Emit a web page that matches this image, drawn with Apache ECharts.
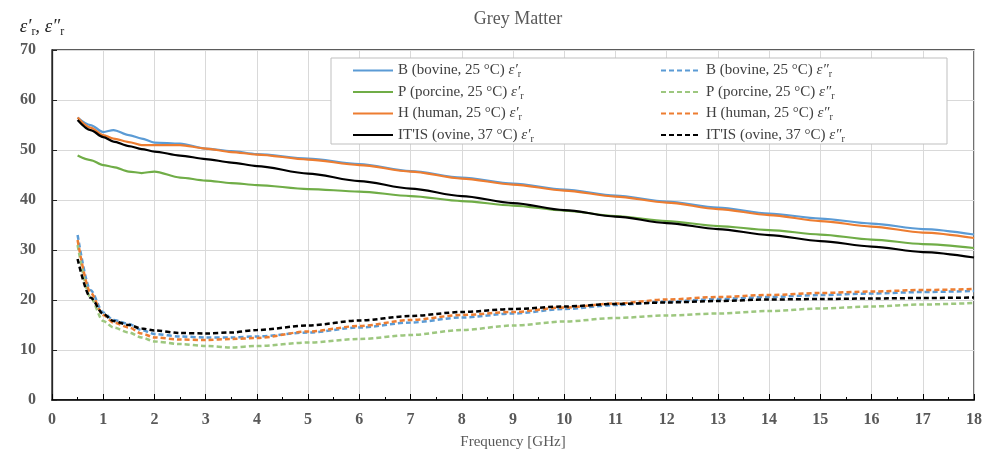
<!DOCTYPE html>
<html>
<head>
<meta charset="utf-8">
<script src="https://cdn.jsdelivr.net/npm/echarts@6/dist/echarts.min.js"></script>
<style>
  html, body { margin: 0; padding: 0; background: #fff; }
  #chart { width: 990px; height: 455px; }
</style>
</head>
<body>
<div id="chart"></div>
<script>
// frequency points (GHz)
var freq = [0.5, 0.75, 1, 1.2, 1.5, 1.75, 2, 2.5, 3, 3.5, 4, 5, 6, 7, 8, 9, 10, 11, 12, 13, 14, 15, 16, 17, 18];

// real part ε'r
var bovineReal  = [56.5, 55, 53.6, 54, 53, 52.3, 51.5, 51.3, 50.3, 49.8, 49.2, 48.3, 47.2, 45.8, 44.5, 43.3, 42.1, 40.9, 39.7, 38.5, 37.3, 36.3, 35.3, 34.2, 33.1];
var porcineReal = [48.9, 48, 47, 46.6, 45.7, 45.4, 45.7, 44.5, 43.9, 43.4, 43, 42.2, 41.7, 40.8, 39.8, 38.9, 37.9, 36.8, 35.8, 34.8, 34, 33.1, 32.1, 31.2, 30.4];
var humanReal   = [56.5, 54.5, 53, 52.3, 51.6, 51, 51, 51, 50.3, 49.6, 49.1, 48.1, 47, 45.7, 44.3, 43.1, 41.9, 40.7, 39.5, 38.2, 37, 35.8, 34.7, 33.5, 32.4];
var itisReal    = [56, 54, 52.6, 51.7, 50.8, 50.2, 49.7, 48.9, 48.2, 47.5, 46.8, 45.3, 43.8, 42.3, 40.8, 39.4, 38, 36.7, 35.4, 34.2, 33.0, 31.8, 30.7, 29.6, 28.5];

// imaginary part ε''r
var bovineImag  = [33, 22, 17.5, 16, 15.2, 14, 13.2, 12.7, 12.5, 12.5, 12.7, 13.5, 14.5, 15.5, 16.5, 17.3, 18.2, 19, 19.7, 20.2, 20.6, 21, 21.3, 21.6, 21.8];
var porcineImag = [31, 20.5, 15.8, 14.5, 13.5, 12.5, 11.7, 11.2, 10.8, 10.5, 10.8, 11.5, 12.2, 13, 14, 14.9, 15.7, 16.4, 16.9, 17.3, 17.8, 18.3, 18.7, 19.1, 19.4];
var humanImag   = [32, 21.5, 17, 15.5, 14.5, 13.3, 12.5, 12.1, 12, 12.2, 12.4, 13.7, 14.8, 16, 17, 17.6, 18.5, 19.3, 20.1, 20.6, 21, 21.4, 21.7, 22, 22.2];
var itisImag    = [28.2, 20.5, 17.2, 15.8, 15, 14.3, 13.9, 13.4, 13.3, 13.5, 14, 14.9, 15.9, 16.8, 17.6, 18.2, 18.7, 19.2, 19.5, 19.8, 20.1, 20.2, 20.3, 20.4, 20.5];

var FONT = "'Liberation Serif', 'Times New Roman', serif";

function pairs (vals) {
  return freq.map(function (f, i) { return [f, vals[i]]; });
}

function mk (name, vals, color, dashed) {
  return {
    name: name,
    type: 'line',
    data: pairs(vals),
    symbol: 'none',
    smooth: 0.3,
    smoothMonotone: 'x',
    lineStyle: { color: color, width: dashed ? 2.5 : 2.25, type: dashed ? [5, 3] : 'solid' },
    itemStyle: { color: color }
  };
}

var nB1 = 'B (bovine, 25 °C) ε′r', nP1 = 'P (porcine, 25 °C) ε′r', nH1 = 'H (human, 25 °C) ε′r', nI1 = 'IT\'IS (ovine, 37 °C) ε′r';
var nB2 = 'B (bovine, 25 °C) ε″r', nP2 = 'P (porcine, 25 °C) ε″r', nH2 = 'H (human, 25 °C) ε″r', nI2 = 'IT\'IS (ovine, 37 °C) ε″r';

var legendRich = {
  e: { fontFamily: FONT, fontSize: 15, fontStyle: 'italic', color: '#404040' },
  s: { fontFamily: FONT, fontSize: 10, color: '#404040', verticalAlign: 'bottom', padding: [8, 0, 0, 0] }
};
function legendFmt (name) {
  return name.replace(/ ε(′|″)r$/, ' {e|ε$1}{s|r}');
}
function legendCol (left, names) {
  return {
    orient: 'vertical', left: left, top: 58,
    itemWidth: 40, itemHeight: 10, itemGap: 5,
    itemStyle: { opacity: 0 },
    data: names,
    formatter: legendFmt,
    textStyle: { fontFamily: FONT, fontSize: 15, color: '#404040', rich: legendRich }
  };
}

var chart = echarts.init(document.getElementById('chart'), null, { renderer: 'canvas' });
chart.setOption({
  animation: false,
  title: {
    text: 'Grey Matter',
    left: 513, top: 5, textAlign: 'center',
    textStyle: { fontFamily: FONT, fontSize: 18, fontWeight: 'normal', color: '#595959' }
  },
  grid: { left: 52, right: 16, top: 50, bottom: 55, show: true, borderColor: '#262626', borderWidth: 1.3, backgroundColor: 'transparent' },
  graphic: [{
    type: 'rect', z: 1,
    shape: { x: 331, y: 58, width: 616, height: 86 },
    style: { fill: '#fff', stroke: '#bfbfbf', lineWidth: 1 }
  }],
  legend: [legendCol(347, [nB1, nP1, nH1, nI1]), legendCol(655, [nB2, nP2, nH2, nI2])],
  xAxis: {
    type: 'value', min: 0, max: 18, interval: 1,
    name: 'Frequency [GHz]', nameLocation: 'middle', nameGap: 35,
    nameTextStyle: { fontFamily: FONT, fontSize: 15, color: '#595959' },
    axisLine: { lineStyle: { color: '#000', width: 1.5 } },
    axisTick: { inside: true, length: 6, lineStyle: { color: '#000' } },
    minorTick: { show: true, splitNumber: 2, length: 3, lineStyle: { color: '#000' } },
    axisLabel: { margin: 12, fontFamily: FONT, fontSize: 16, fontWeight: 'bold', color: '#595959' },
    splitLine: { show: true, lineStyle: { color: '#d9d9d9', width: 1 } }
  },
  yAxis: {
    type: 'value', min: 0, max: 70, interval: 10,
    name: '{e|ε′}{s|r}{e|, ε″}{s|r}', nameLocation: 'end', nameGap: 12,
    nameTextStyle: {
      align: 'center', padding: [0, 20, 0, 0],
      rich: {
        e: { fontFamily: FONT, fontSize: 19, fontStyle: 'italic', color: '#262626' },
        s: { fontFamily: FONT, fontSize: 12, color: '#262626', verticalAlign: 'bottom', padding: [10, 0, 0, 0] }
      }
    },
    axisLine: { show: true, lineStyle: { color: '#262626', width: 1.3 } },
    axisTick: { show: true, inside: true, length: 5, lineStyle: { color: '#262626' } },
    axisLabel: { margin: 16, fontFamily: FONT, fontSize: 16, fontWeight: 'bold', color: '#595959' },
    splitLine: { show: true, lineStyle: { color: '#d9d9d9', width: 1 } }
  },
  series: [
    mk(nB1, bovineReal, '#5b9bd5', false),
    mk(nP1, porcineReal, '#70ad47', false),
    mk(nH1, humanReal, '#ed7d31', false),
    mk(nI1, itisReal, '#000000', false),
    mk(nB2, bovineImag, '#5b9bd5', true),
    mk(nP2, porcineImag, '#9dc77f', true),
    mk(nH2, humanImag, '#ed7d31', true),
    mk(nI2, itisImag, '#000000', true)
  ]
});
</script>
</body>
</html>
